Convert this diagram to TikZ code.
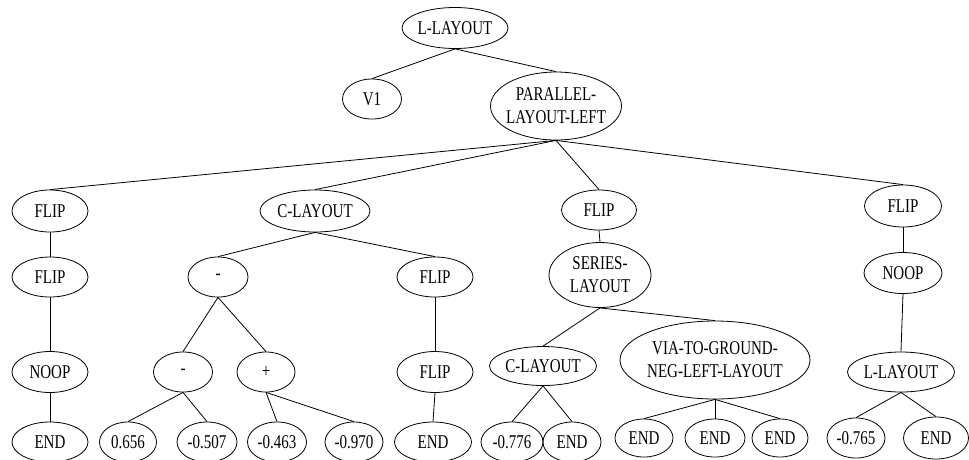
\documentclass[tikz,border=0pt]{standalone}
\usepackage{fontspec}
\setmainfont[FakeStretch=0.77]{Liberation Serif}
\usetikzlibrary{shapes.geometric}

\tikzset{
	gpnode/.style={ellipse, draw, line width=0.8pt, inner xsep=-8pt, inner ysep=-4pt, align=center,
		font=\fontsize{19.5}{23}\selectfont},
	gpedge/.style={line width=0.8pt}
}

\begin{document}
\begin{tikzpicture}[x=1pt, y=-1pt]
		\useasboundingbox (0,0) rectangle (969,459);
		
		% top of the tree
		\node [gpnode, minimum width=106, minimum height=41] (root) at (455, 28) {L-LAYOUT};
		\node [gpnode, minimum width=59, minimum height=40] (v1) at (372, 99) {V1};
		\node [gpnode, minimum width=131, minimum height=68] (par) at (556, 106) {PARALLEL-\\LAYOUT-LEFT};
		
		\node [gpnode, minimum width=76, minimum height=42] (flipA) at (50, 211) {FLIP};
		\node [gpnode, minimum width=110, minimum height=42] (clayA) at (315, 211) {C-LAYOUT};
		\node [gpnode, minimum width=75, minimum height=40] (flipB) at (599, 210) {FLIP};
		\node [gpnode, minimum width=77, minimum height=42] (flipC) at (903, 206) {FLIP};
		
		\node [gpnode, minimum width=76, minimum height=40] (flipD) at (50, 277) {FLIP};
		\node [gpnode, minimum width=60, minimum height=40] (minA) at (218, 277) {-};
		\node [gpnode, minimum width=76, minimum height=40] (flipE) at (435, 277) {FLIP};
		\node [gpnode, minimum width=102, minimum height=65] (ser) at (600, 275) {SERIES-\\LAYOUT};
		\node [gpnode, minimum width=78, minimum height=41] (noopB) at (903, 273) {NOOP};
		
		\node [gpnode, minimum width=76, minimum height=41] (noopA) at (50, 372) {NOOP};
		\node [gpnode, minimum width=59, minimum height=40] (minB) at (183, 372) {-};
		\node [gpnode, minimum width=58, minimum height=40] (plus) at (266, 372) {+};
		\node [gpnode, minimum width=76, minimum height=41] (flipF) at (435, 372) {FLIP};
		\node [gpnode, minimum width=107, minimum height=39] (clayB) at (543, 366) {C-LAYOUT};
		\node [gpnode, minimum width=190, minimum height=78] (via) at (715, 360) {VIA-TO-GROUND-\\NEG-LEFT-LAYOUT};
		\node [gpnode, minimum width=107, minimum height=40] (llay) at (901, 372) {L-LAYOUT};
		
		% leaves
		\node [gpnode, minimum width=76, minimum height=40] (endA) at (50, 442) {END};
		\node [gpnode, minimum width=57, minimum height=40] (numA) at (128, 442) {0.656};
		\node [gpnode, minimum width=60, minimum height=40] (numB) at (207, 442) {-0.507};
		\node [gpnode, minimum width=59, minimum height=40] (numC) at (277, 442) {-0.463};
		\node [gpnode, minimum width=58, minimum height=40] (numD) at (354, 442) {-0.970};
		\node [gpnode, minimum width=77, minimum height=40] (endB) at (433, 442) {END};
		\node [gpnode, minimum width=62, minimum height=40] (numE) at (512, 442) {-0.776};
		\node [gpnode, minimum width=58, minimum height=40] (endC) at (572, 442) {END};
		\node [gpnode, minimum width=58, minimum height=38] (endD) at (644, 438) {END};
		\node [gpnode, minimum width=60, minimum height=38] (endE) at (715, 438) {END};
		\node [gpnode, minimum width=56, minimum height=38] (endF) at (780, 438) {END};
		\node [gpnode, minimum width=58, minimum height=40] (numF) at (856, 438) {-0.765};
		\node [gpnode, minimum width=65, minimum height=42] (endG) at (936, 438) {END};
		
		\draw [gpedge] (root.south) -- (v1.north);
		\draw [gpedge] (root.south) -- (par.north);
		\draw [gpedge] (par.south) -- (flipA.north);
		\draw [gpedge] (par.south) -- (clayA.north);
		\draw [gpedge] (par.south) -- (flipB.north);
		\draw [gpedge] (par.south) -- (flipC.north);
		
		\draw [gpedge] (flipA.south) -- (flipD.north);
		\draw [gpedge] (flipD.south) -- (noopA.north);
		\draw [gpedge] (noopA.south) -- (endA.north);
		
		\draw [gpedge] (clayA.south) -- (minA.north);
		\draw [gpedge] (clayA.south) -- (flipE.north);
		\draw [gpedge] (minA.south) -- (minB.north);
		\draw [gpedge] (minA.south) -- (plus.north);
		\draw [gpedge] (minB.south) -- (numA.north);
		\draw [gpedge] (minB.south) -- (numB.north);
		\draw [gpedge] (plus.south) -- (numC.north);
		\draw [gpedge] (plus.south) -- (numD.north);
		\draw [gpedge] (flipE.south) -- (flipF.north);
		\draw [gpedge] (flipF.south) -- (endB.north);
		
		\draw [gpedge] (flipB.south) -- (ser.north);
		\draw [gpedge] (ser.south) -- (clayB.north);
		\draw [gpedge] (ser.south) -- (via.north);
		\draw [gpedge] (clayB.south) -- (numE.north);
		\draw [gpedge] (clayB.south) -- (endC.north);
		\draw [gpedge] (via.south) -- (endD.north);
		\draw [gpedge] (via.south) -- (endE.north);
		\draw [gpedge] (via.south) -- (endF.north);
		
		\draw [gpedge] (flipC.south) -- (noopB.north);
		\draw [gpedge] (noopB.south) -- (llay.north);
		\draw [gpedge] (llay.south) -- (numF.north);
		\draw [gpedge] (llay.south) -- (endG.north);
	\end{tikzpicture}
\end{document}
